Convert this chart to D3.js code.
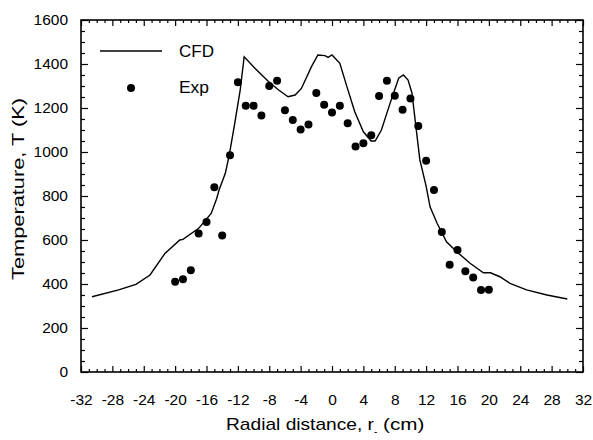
<!DOCTYPE html>
<html>
<head>
<meta charset="utf-8">
<script src="https://cdn.jsdelivr.net/npm/d3@7"></script>
<style>
  body { margin: 0; background: #fff; }
  text { font-family: "Liberation Sans", Arial, sans-serif; }
</style>
</head>
<body>
<div id="vis"></div>
<script>
const WIDTH = 593, HEIGHT = 440;
const margin = {top: 20, right: 10, bottom: 68, left: 81};

// CFD curve
const cfdR = [-30.6, -27.2, -25, -23.2, -21.3, -19.4, -19, -17, -15.4, -14.7, -14.4, -13.6, -13.1, -12.4, -11.7, -11.2,
  -9.8, -8.1, -6.8, -5.6, -4.7, -3.9, -2.6, -1.8, -0.9, -0.5, 0, 1, 1.9, 2.9, 4, 5, 5.5, 6.3, 7.4, 8.5, 9.1, 9.7,
  10.2, 10.6, 11.2, 12, 12.5, 13.4, 14.6, 15.9, 17.6, 19.3, 20.2, 21.4, 22.7, 24.8, 27.4, 30];
const cfdT = [342, 373, 398, 441, 539, 600, 603, 653, 721, 789, 827, 903, 986, 1130, 1282, 1433,
  1380, 1320, 1282, 1251, 1259, 1289, 1389, 1441, 1438, 1430, 1441, 1403, 1297, 1183, 1092, 1050, 1050, 1100, 1221, 1335, 1350, 1327,
  1267, 1145, 964, 845, 751, 676, 592, 547, 494, 451, 451, 433, 403, 373, 350, 332];

// experimental points
const expR = [-20, -19, -18, -17, -16, -15, -14, -13, -12, -11, -10, -9, -8, -7, -6, -5, -4, -3, -2, -1, 0,
  1, 2, 3, 4, 5, 6, 7, 8, 9, 10, 11, 12, 13, 14, 15, 16, 17, 18, 19, 20];
const expT = [410, 422, 462, 630, 682, 840, 620, 985, 1317, 1210, 1210, 1166, 1300, 1324, 1190, 1146, 1102, 1125, 1268, 1215, 1180,
  1210, 1131, 1025, 1040, 1076, 1255, 1324, 1256, 1192, 1243, 1118, 960, 827, 636, 488, 555, 458, 429, 373, 374];

const xTicks = d3.range(-32, 33, 4);
const yTicks = d3.range(0, 1601, 200);

const innerW = WIDTH - margin.left - margin.right;
const innerH = HEIGHT - margin.top - margin.bottom;

const x = d3.scaleLinear().domain([-32, 32]).range([0, innerW]);
const y = d3.scaleLinear().domain([0, 1600]).range([innerH, 0]);

const svg = d3.select('#vis').append('svg')
  .attr('width', WIDTH)
  .attr('height', HEIGHT);

const g = svg.append('g')
  .attr('transform', `translate(${margin.left},${margin.top})`);

function styleAxis(sel) {
  sel.select('.domain').remove();
  sel.selectAll('.tick line').attr('stroke', '#000').attr('stroke-width', 1.2);
  sel.selectAll('.tick text').attr('fill', '#000').style('font-size', '15.5px');
}

// minor ticks first
const xMinor = d3.range(-32, 33, 1).filter(v => v % 4 !== 0);
const yMinor = d3.range(0, 1601, 50).filter(v => v % 200 !== 0);

g.append('g').attr('transform', `translate(0,${innerH})`)
  .call(d3.axisBottom(x).tickValues(xMinor).tickSize(-3).tickFormat(''))
  .call(styleAxis);
g.append('g')
  .call(d3.axisTop(x).tickValues(xMinor).tickSize(-3).tickFormat(''))
  .call(styleAxis);
g.append('g')
  .call(d3.axisLeft(y).tickValues(yMinor).tickSize(-4).tickFormat(''))
  .call(styleAxis);
g.append('g').attr('transform', `translate(${innerW},0)`)
  .call(d3.axisRight(y).tickValues(yMinor).tickSize(-4).tickFormat(''))
  .call(styleAxis);

// major ticks
g.append('g').attr('transform', `translate(0,${innerH})`)
  .call(d3.axisBottom(x).tickValues(xTicks).tickSize(-6).tickPadding(22).tickFormat(d => String(d)))
  .call(styleAxis);
g.append('g')
  .call(d3.axisTop(x).tickValues(xTicks).tickSize(-6).tickFormat(''))
  .call(styleAxis);
g.append('g')
  .call(d3.axisLeft(y).tickValues(yTicks).tickSize(-7).tickPadding(13).tickFormat(d => String(d)))
  .call(styleAxis);
g.append('g').attr('transform', `translate(${innerW},0)`)
  .call(d3.axisRight(y).tickValues(yTicks).tickSize(-7).tickFormat(''))
  .call(styleAxis);

// frame
g.append('rect')
  .attr('width', innerW).attr('height', innerH)
  .attr('fill', 'none').attr('stroke', '#000').attr('stroke-width', 1.6);

// CFD line
const line = d3.line().x(d => x(d[0])).y(d => y(d[1]));
g.append('path')
  .datum(d3.zip(cfdR, cfdT))
  .attr('d', line)
  .attr('fill', 'none')
  .attr('stroke', '#000')
  .attr('stroke-width', 1.4);

// Exp dots
g.selectAll('.dot')
  .data(d3.zip(expR, expT))
  .enter().append('circle')
  .attr('class', 'dot')
  .attr('cx', d => x(d[0]))
  .attr('cy', d => y(d[1]))
  .attr('r', 4)
  .attr('fill', '#000');

// legend
const legend = svg.append('g');
legend.append('line')
  .attr('x1', 100).attr('x2', 162).attr('y1', 51).attr('y2', 51)
  .attr('stroke', '#000').attr('stroke-width', 1.4);
legend.append('text').attr('x', 179).attr('y', 57).text('CFD')
  .style('font-size', '16px').attr('textLength', 35).attr('lengthAdjust', 'spacingAndGlyphs');
legend.append('circle').attr('cx', 131).attr('cy', 88).attr('r', 4).attr('fill', '#000');
legend.append('text').attr('x', 179).attr('y', 93).text('Exp')
  .style('font-size', '16px').attr('textLength', 30).attr('lengthAdjust', 'spacingAndGlyphs');

// axis titles
const xt = svg.append('text')
  .attr('x', 226)
  .attr('y', 430)
  .style('font-size', '17px');
xt.append('tspan').text('Radial distance, r')
  .attr('textLength', 148).attr('lengthAdjust', 'spacingAndGlyphs');
xt.append('tspan').attr('dy', 5).style('font-size', '10px').text('-');
xt.append('tspan').attr('dy', -5).text(' (cm)')
  .attr('textLength', 47).attr('lengthAdjust', 'spacingAndGlyphs');

svg.append('text')
  .attr('transform', `translate(24,189) rotate(-90)`)
  .attr('text-anchor', 'middle')
  .style('font-size', '17px')
  .attr('textLength', 182).attr('lengthAdjust', 'spacingAndGlyphs')
  .text('Temperature, T (K)');
</script>
</body>
</html>
